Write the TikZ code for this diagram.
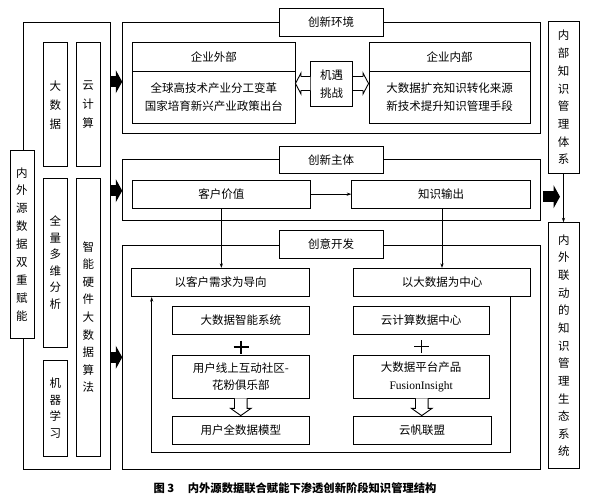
\documentclass[tikz,border=0pt]{standalone}
\usepackage{fontspec}
\setmainfont{Noto Sans CJK SC}
\newfontfamily\lser{Liberation Serif}
\usetikzlibrary{arrows.meta}
\begin{document}
\begin{tikzpicture}[x=1pt,y=-1pt,
  bx/.style={draw, line width=0.9pt, inner sep=0pt, align=center, fill=white, font=\fontsize{11.5}{17.5}\selectfont},
  vbx/.style={bx, font=\fontsize{11.5}{#1}\selectfont},
  frm/.style={draw, line width=0.9pt, inner sep=0pt},
  thinarr/.style={line width=0.7pt, -{Stealth[length=4.5pt,width=3.2pt]}},
  bigarr/.style={line width=11pt, -{Triangle[length=6.5pt,width=23pt]}},
  hol/.style={draw, line width=0.9pt, fill=white, line join=miter},
  plusline/.style={line width=1.8pt}
]
\useasboundingbox (0,0) rectangle (595,498);
\fill[white] (0,0) rectangle (595,498);

% left source block
\node[frm, minimum width=87pt, minimum height=446.6pt] (src) at (66.5,246) {};
\node[vbx=17.9, minimum width=24pt, minimum height=187.3pt] (nwy) at (22,244.3) {内\\外\\源\\数\\据\\双\\重\\赋\\能};
\node[vbx=19, minimum width=24pt, minimum height=124pt] (dsj0) at (55.3,104.7) {大\\数\\据};
\node[vbx=19, minimum width=24pt, minimum height=124pt] (yjs0) at (88,104.7) {云\\计\\算};
\node[vbx=16.5, minimum width=24pt, minimum height=169pt] (qlfx) at (55.3,262.8) {全\\量\\多\\维\\分\\析};
\node[vbx=16.5, minimum width=24pt, minimum height=96pt] (jqxx) at (55.3,408) {机\\器\\学\\习};
\node[vbx=17.6, minimum width=24pt, minimum height=277.7pt] (znyj) at (88.3,317.2) {智\\能\\硬\\件\\大\\数\\据\\算\\法};

% frames
\node[frm, minimum width=417.3pt, minimum height=110.6pt] (f1) at (331.35,78) {};
\node[frm, minimum width=417.3pt, minimum height=61.4pt] (f2) at (331.35,190) {};
\node[frm, minimum width=417.3pt, minimum height=224.3pt] (f3) at (331.35,357.15) {};
\node[bx, minimum width=104pt, minimum height=27.7pt] (t1) at (331,22.15) {创新环境};
\node[bx, minimum width=104pt, minimum height=27pt] (t2) at (331,160) {创新主体};
\node[bx, minimum width=104pt, minimum height=27.6pt] (t3) at (331,244.5) {创意开发};

% innovation environment
\node[bx, minimum width=162.3pt, minimum height=28.3pt] (ewh) at (213.85,56.85) {企业外部};
\node[bx, minimum width=162.3pt, minimum height=52.3pt] (ew) at (213.85,97.15) {全球高技术产业分工变革\\国家培育新兴产业政策出台};
\node[bx, minimum width=161pt, minimum height=28.3pt] (enh) at (449.5,56.85) {企业内部};
\node[bx, minimum width=161pt, minimum height=52.3pt] (en) at (449.5,97.15) {大数据扩充知识转化来源\\新技术提升知识管理手段};
\node[bx, minimum width=42pt, minimum height=45pt] (jy) at (331.7,84.2) {机遇\\挑战};
\draw[hol] (jy.west |- 0,76.5) -- (301,76.5) -- (301,73) -- (ew.east |- 0,83.5) -- (301,94) -- (301,90.5) -- (jy.west |- 0,90.5);
\draw[hol] (jy.east |- 0,76.5) -- (363,76.5) -- (363,73) -- (en.west |- 0,83.5) -- (363,94) -- (363,90.5) -- (jy.east |- 0,90.5);

% innovation subject
\node[bx, minimum width=177.3pt, minimum height=28.3pt] (ck) at (221.35,194.15) {客户价值};
\node[bx, minimum width=179pt, minimum height=28.3pt] (zs) at (441.2,194.15) {知识输出};
\draw[thinarr] (ck.east) -- (zs.west);

% creative development
\node[bx, minimum width=177.8pt, minimum height=28.4pt] (kh) at (220.6,282.5) {以客户需求为导向};
\node[bx, minimum width=177.4pt, minimum height=28.4pt] (dc) at (442,282.5) {以大数据为中心};
\draw[thinarr] (ck.south) -- (ck.south |- kh.north);
\draw[thinarr] (zs.south -| dc.north) -- (dc.north);

\node[bx, minimum width=136.3pt, minimum height=28.3pt] (znxt) at (240.85,320.15) {大数据智能系统};
\node[bx, minimum width=136.3pt, minimum height=43.3pt] (hf) at (240.85,376.65) {用户线上互动社区-\\花粉俱乐部};
\node[bx, minimum width=136.3pt, minimum height=28pt] (mx) at (240.85,430) {用户全数据模型};
\node[bx, minimum width=135.7pt, minimum height=27.6pt] (yzx) at (421.15,320.5) {云计算数据中心};
\node[bx, minimum width=135.7pt, minimum height=43.3pt] (fi) at (421.15,376.65) {大数据平台产品\\{\lser FusionInsight}};
\node[bx, minimum width=137.7pt, minimum height=28pt] (yf) at (422.15,430) {云帆联盟};

\draw[plusline] (233.5,347) -- (248.5,347) (241,340.5) -- (241,353.5);
\draw[plusline] (414,346.5) -- (429,346.5) (421.5,340) -- (421.5,353);

\draw[hol] (234.5,398.3) -- (234.5,408.3) -- (230.5,408.3) -- (240.8,415.6) -- (251.1,408.3) -- (247.1,408.3) -- (247.1,398.3);
\draw[hol] (415.5,398.3) -- (415.5,408.3) -- (411.5,408.3) -- (421.8,415.6) -- (432.1,408.3) -- (428.1,408.3) -- (428.1,398.3);

\coordinate (lp1) at (510,452.7);
\coordinate (lp2) at (151.7,452.7);
\draw[thinarr] (dc.south -| lp1) -- (lp1) -- (lp2) -- (kh.south -| lp2);

% right column
\node[vbx=17.7, minimum width=30.7pt, minimum height=151.6pt] (nb) at (563.65,97.5) {内\\部\\知\\识\\管\\理\\体\\系};
\node[vbx=17.64, minimum width=30.5pt, minimum height=246pt] (nw) at (563.95,345.7) {内\\外\\联\\动\\的\\知\\识\\管\\理\\生\\态\\系\\统};
\draw[thinarr] (nb.south -| 563.5,0) -- (nw.north -| 563.5,0);

% big black arrows
\coordinate (ya) at (0,81.7);
\coordinate (yb) at (0,190.7);
\coordinate (yc) at (0,357.3);
\coordinate (yd) at (0,196.7);
\draw[bigarr] (src.east |- ya) -- (f1.west |- ya);
\draw[bigarr] (src.east |- yb) -- (f2.west |- yb);
\draw[bigarr] (src.east |- yc) -- (f3.west |- yc);
\coordinate (rd) at (560,196.7);
\draw[bigarr] (f2.east |- yd) ++(2.3,0) -- (rd);

% caption
\node[font=\bfseries\fontsize{11.3}{13}\selectfont, inner sep=0pt] (cap) at (295,488.3) {图 3\hspace{1.2em}内外源数据联合赋能下渗透创新阶段知识管理结构};
\end{tikzpicture}
\end{document}
